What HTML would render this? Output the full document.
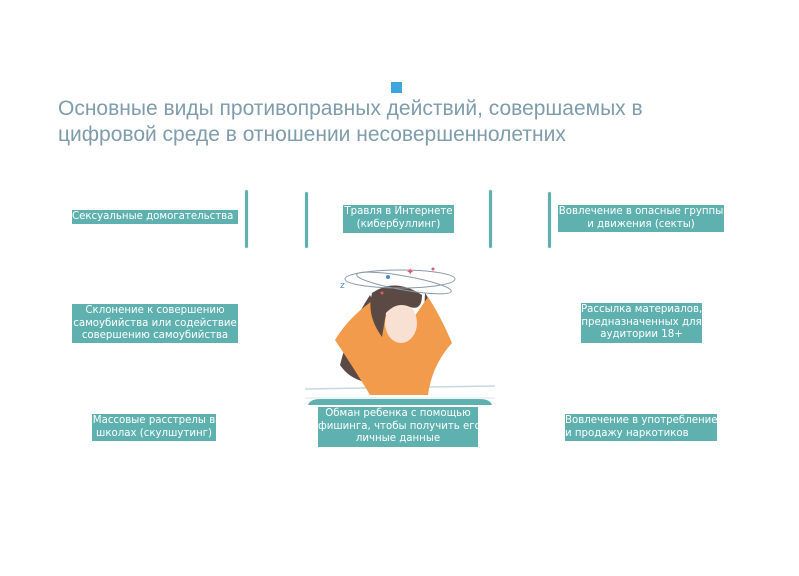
<!DOCTYPE html>
<html><head><meta charset="utf-8">
<style>
body{margin:0;width:799px;height:576px;background:#fff;position:relative;overflow:hidden;font-family:"DejaVu Sans","Liberation Sans",sans-serif;}
.t{position:absolute;left:58px;top:96px;font-family:"Liberation Sans",sans-serif;font-size:21px;line-height:26px;color:#7e9cab;}
.b{position:absolute;background:#5fb1b0;color:#fff;font-size:10.2px;line-height:12.5px;text-align:center;white-space:nowrap;overflow:hidden;}
.br{position:absolute;width:3px;background:#5fb1b0;border-radius:3px;box-shadow:0 0 2px #cfe6ea;}
.sq{position:absolute;left:391px;top:82px;width:11px;height:11px;background:#3ea6dc;}
</style></head><body>
<div class="sq"></div>
<div class="t">Основные виды противоправных действий, совершаемых в<br>цифровой среде в отношении несовершеннолетних</div>

<div class="br" style="left:245px;top:190px;height:58px"></div>
<div class="br" style="left:305px;top:192px;height:56px"></div>
<div class="br" style="left:489px;top:190px;height:58px"></div>
<div class="br" style="left:548px;top:192px;height:56px"></div>

<div class="b" style="left:72px;top:210px;width:166px;height:14px;text-align:left;line-height:14px">Сексуальные домогательства</div>
<div class="b" style="left:343px;top:205px;width:111px;height:27px;padding-top:1px">Травля в Интернете<br>(кибербуллинг)</div>
<div class="b" style="left:558px;top:205px;width:166px;height:26px;padding-top:1px">Вовлечение в опасные группы<br>и движения (секты)</div>
<div class="b" style="left:72px;top:304px;width:166px;height:38px;padding-top:1px">Склонение к совершению<br>самоубийства или содействие<br>совершению самоубийства</div>
<div class="b" style="left:581px;top:303px;width:121px;height:39px;padding-top:1px">Рассылка материалов,<br>предназначенных для<br>аудитории 18+</div>
<div class="b" style="left:92px;top:414px;width:124px;height:27px;line-height:13px">Массовые расстрелы в<br>школах (скулшутинг)</div>
<div class="b" style="left:318px;top:407px;width:160px;height:39px;padding-top:1px">Обман ребенка с помощью<br>фишинга, чтобы получить его<br>личные данные</div>
<div class="b" style="left:565px;top:414px;width:152px;height:27px;text-align:left;line-height:13px">Вовлечение в употребление<br>и продажу наркотиков</div>

<svg style="position:absolute;left:300px;top:255px" width="200" height="155" viewBox="0 0 200 155">
  <line x1="5" y1="134" x2="195" y2="131" stroke="#c9d6e2" stroke-width="1.5"/>
  <line x1="5" y1="143" x2="195" y2="143" stroke="#dde6ee" stroke-width="1"/>
  <path d="M8 150 Q10 144 20 144 L180 144 Q190 144 192 150 Z" fill="#5fb1b0"/>
  <path d="M70 40 Q50 70 40 110 Q50 125 70 128 L80 60 Z" fill="#5b4a44"/>
  <path d="M125 38 Q145 65 140 105 L122 100 Z" fill="#5b4a44"/>
  <path d="M35 85 Q55 115 70 140 L128 140 Q132 110 152 88 Q140 60 128 42 L112 65 L92 72 L78 42 Q50 60 35 85 Z" fill="#f39b4c"/>
  <ellipse cx="101" cy="68" rx="16" ry="20" fill="#f8e1d3"/>
  <path d="M72 38 Q95 22 122 40 Q122 56 110 52 Q97 46 86 58 L82 82 Q66 60 72 38 Z" fill="#5b4a44"/>
  <ellipse cx="100" cy="24" rx="55" ry="9" fill="none" stroke="#8a99aa" stroke-width="1"/>
  <ellipse cx="104" cy="28" rx="48" ry="7" fill="none" stroke="#8a99aa" stroke-width="1" transform="rotate(10 104 28)"/>
  <circle cx="88" cy="22" r="2" fill="#4f88c9"/>
  <text x="106" y="20" font-size="10" fill="#e05a6a" font-family="DejaVu Sans">✦</text>
  <circle cx="133" cy="14" r="1.5" fill="#e05a6a"/>
  <circle cx="82" cy="38" r="1.5" fill="#e05a6a"/>
  <text x="40" y="33" font-size="9" fill="#4f88c9" font-family="DejaVu Sans">z</text>
</svg>
</body></html>
